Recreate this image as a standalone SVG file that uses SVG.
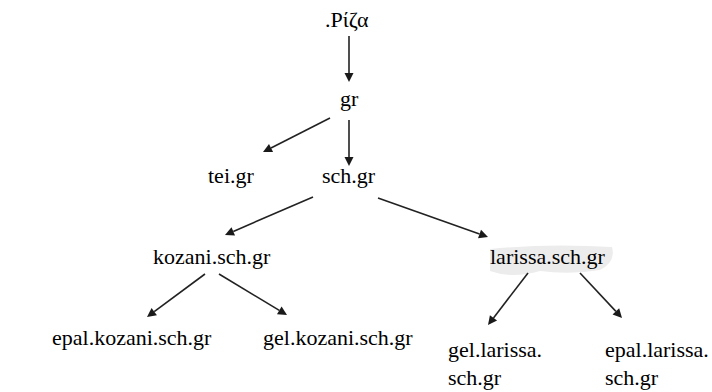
<svg xmlns="http://www.w3.org/2000/svg" width="712" height="392" viewBox="0 0 712 392">
  <rect width="712" height="392" fill="#ffffff"/>

  <!-- soft grey smear behind the larissa node -->
  <path d="M490,249 Q548,243 612,247 Q616,262 600,270 Q570,275 540,271 Q512,279 490,271 Z" fill="#ececec"/>

  <!-- edges: shaft lines plus filled arrowheads -->
  <g id="connectors">
    <g stroke="#222" stroke-width="1.6" fill="none">
      <line x1="349" y1="36" x2="349" y2="74"/>
      <line x1="349" y1="120" x2="349" y2="158"/>
      <line x1="330" y1="118" x2="271" y2="148"/>
      <line x1="313" y1="197" x2="233.3" y2="231.4"/>
      <line x1="378" y1="198" x2="479.5" y2="234"/>
      <line x1="205" y1="274" x2="154.2" y2="311.6"/>
      <line x1="219" y1="274" x2="279.3" y2="310.4"/>
      <line x1="528" y1="273" x2="493.5" y2="317.9"/>
      <line x1="580" y1="273" x2="615.9" y2="311.4"/>
    </g>
    <g fill="#1a1a1a">
      <polygon points="349,82 344.5,73 353.5,73"/>
      <polygon points="349,166 344.5,157 353.5,157"/>
      <polygon points="263,152 268.99,143.92 273.07,151.94"/>
      <polygon points="225,235 231.48,227.3 235.04,235.56"/>
      <polygon points="488,237 478.02,238.23 481.02,229.75"/>
      <polygon points="147,317 151.55,308.03 156.91,315.25"/>
      <polygon points="287,315 276.97,314.2 281.61,306.5"/>
      <polygon points="488,325 489.92,315.13 497.06,320.61"/>
      <polygon points="622,318 612.57,314.49 619.15,308.35"/>
    </g>
  </g>

  <text id="node-root" font-family="Liberation Serif" font-size="22" x="325" y="27">.Ρίζα</text>
  <text id="node-gr" font-family="Liberation Serif" font-size="22" x="340" y="106">gr</text>
  <text id="node-tei" font-family="Liberation Serif" font-size="22" x="208" y="183">tei.gr</text>
  <text id="node-sch" font-family="Liberation Serif" font-size="22" x="322" y="183">sch.gr</text>
  <text id="node-kozani" font-family="Liberation Serif" font-size="22" x="153" y="264">kozani.sch.gr</text>
  <text id="node-larissa" font-family="Liberation Serif" font-size="22" x="490" y="264">larissa.sch.gr</text>
  <text id="node-epal-kozani" font-family="Liberation Serif" font-size="22" x="52" y="345">epal.kozani.sch.gr</text>
  <text id="node-gel-kozani" font-family="Liberation Serif" font-size="22" x="263" y="345">gel.kozani.sch.gr</text>
  <g id="node-gel-larissa">
    <text font-family="Liberation Serif" font-size="22" x="448" y="357">gel.larissa.</text>
    <text font-family="Liberation Serif" font-size="22" x="448" y="385">sch.gr</text>
  </g>
  <g id="node-epal-larissa">
    <text font-family="Liberation Serif" font-size="22" x="605" y="357">epal.larissa.</text>
    <text font-family="Liberation Serif" font-size="22" x="605" y="385">sch.gr</text>
  </g>
</svg>
